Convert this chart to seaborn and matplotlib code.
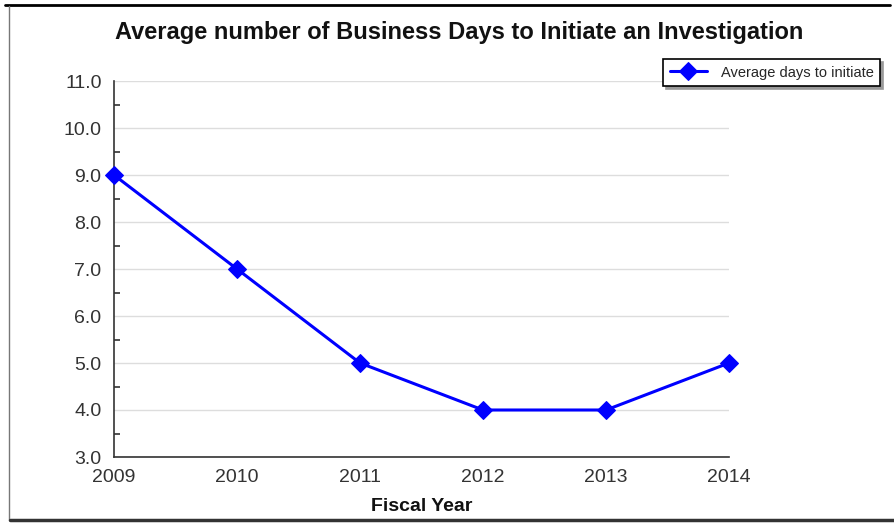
import matplotlib
matplotlib.use("Agg")
import matplotlib.pyplot as plt
from matplotlib.lines import Line2D
from matplotlib.ticker import MultipleLocator, FormatStrFormatter
import seaborn as sns
import pandas as pd

years = [2009, 2010, 2011, 2012, 2013, 2014]
avg_days = [9, 7, 5, 4, 4, 5]
series_name = "Average days to initiate"

sns.set_theme(style="white")
plt.rcParams["font.family"] = ["Liberation Sans", "DejaVu Sans"]

df = pd.DataFrame({"Fiscal Year": years, "days": avg_days})

fig = plt.figure(figsize=(8.94, 5.25), dpi=100)
ax = fig.add_axes([114 / 894, 1 - 457 / 525, (729 - 114) / 894, (457 - 81) / 525])

sns.lineplot(data=df, x="Fiscal Year", y="days", ax=ax, color="#0000ff",
             linewidth=2.2, marker="D", markersize=9, markeredgecolor="#0000ff",
             label=series_name, clip_on=False, zorder=5)

ax.set_xlim(2009, 2014)
ax.set_ylim(3, 11)
ax.set_xticks(years)
ax.set_xticklabels([str(y) for y in years])
ax.yaxis.set_major_locator(MultipleLocator(1))
ax.yaxis.set_minor_locator(MultipleLocator(0.5))
ax.yaxis.set_major_formatter(FormatStrFormatter("%.1f"))
ax.grid(axis="y", which="major", color="#dddddd", linewidth=1)
ax.set_axisbelow(True)

for side in ("top", "right"):
    ax.spines[side].set_visible(False)
for side in ("left", "bottom"):
    ax.spines[side].set_color("#333333")
    ax.spines[side].set_linewidth(1.2)

ax.tick_params(axis="both", which="major", direction="in", length=6, width=1.2,
               color="#333333", labelsize=14, labelcolor="#333333")
ax.tick_params(axis="y", which="minor", direction="in", length=4, width=1.2,
               color="#333333", left=True)
ax.tick_params(axis="y", which="major", pad=9)
ax.tick_params(axis="x", which="major", pad=9)

ax.set_ylabel("")
ax.set_xlabel("Fiscal Year", fontsize=14, fontweight="bold", color="#111111", labelpad=8)

fig.text(459 / 894, 1 - 33 / 525, "Average number of Business Days to Initiate an Investigation",
         ha="center", va="center", fontsize=17, fontweight="bold", color="#111111")

leg = ax.legend(loc="upper right", bbox_to_anchor=(880 / 894, 1 - 59 / 525),
                bbox_transform=fig.transFigure, borderaxespad=0, frameon=True,
                fancybox=False, shadow={"color": "#999999", "alpha": 1}, fontsize=10.5,
                borderpad=0.45, handlelength=2.6, handletextpad=0.9)
leg.get_frame().set_edgecolor("#000000")
leg.get_frame().set_linewidth(1.2)

# outer frame of the figure
fig.add_artist(Line2D([5 / 894, 890 / 894], [1 - 5 / 525, 1 - 5 / 525],
                      transform=fig.transFigure, color="#000000", linewidth=2))
fig.add_artist(Line2D([9 / 894, 9 / 894], [1 - 6 / 525, 1 - 520 / 525],
                      transform=fig.transFigure, color="#777777", linewidth=1))
fig.add_artist(Line2D([10 / 894, 894 / 894], [1 - 520 / 525, 1 - 520 / 525],
                      transform=fig.transFigure, color="#333333", linewidth=2.5))

fig.savefig("out.png", dpi=100)
